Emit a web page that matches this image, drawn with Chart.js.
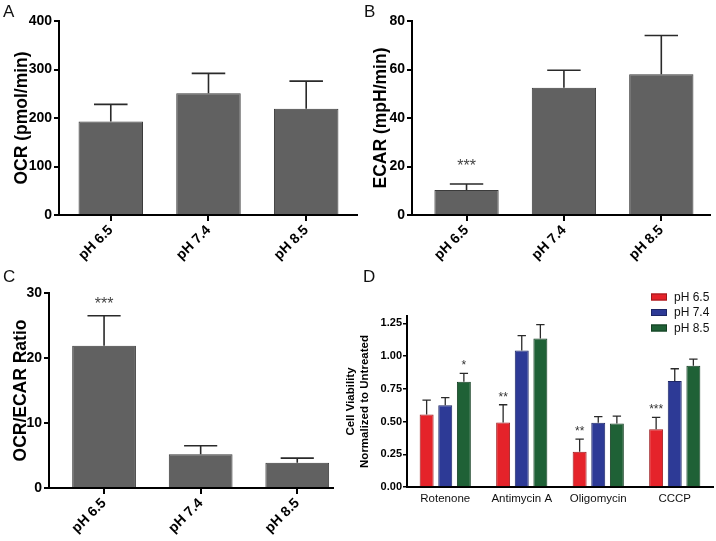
<!DOCTYPE html>
<html>
<head>
<meta charset="utf-8">
<script src="https://cdn.jsdelivr.net/npm/chart.js@4.4.1/dist/chart.umd.min.js"></script>
<style>
  body { margin: 0; background: #fff; }
  #wrap { position: relative; width: 716px; height: 541px; overflow: hidden; font-family: 'Liberation Sans', Arial, sans-serif; }
  .panel { position: absolute; }
  .tag { position: absolute; font-size: 17px; color: #111; line-height: 17px; }
</style>
</head>
<body>
<div id="wrap">
  <div class="panel" style="left:0;top:0;width:360px;height:280px"><canvas id="chartA" width="360" height="280"></canvas></div>
  <div class="panel" style="left:360px;top:0;width:356px;height:280px"><canvas id="chartB" width="356" height="280"></canvas></div>
  <div class="panel" style="left:0;top:280px;width:360px;height:261px"><canvas id="chartC" width="360" height="261"></canvas></div>
  <div class="panel" style="left:340px;top:280px;width:376px;height:261px"><canvas id="chartD" width="376" height="261"></canvas></div>
  <div class="tag" style="left:3px;top:3px">A</div>
  <div class="tag" style="left:364px;top:3px">B</div>
  <div class="tag" style="left:3px;top:268px">C</div>
  <div class="tag" style="left:363px;top:268px">D</div>
</div>
<script>
// groups for panels A-C
const phLabels = ['pH 6.5', 'pH 7.4', 'pH 8.5'];

// A: oxygen consumption rate
const ocr = [193, 251, 219];
const ocrErr = [35, 41, 57];

// B: extracellular acidification rate
const ecar = [10.3, 52.5, 58];
const ecarErr = [2.5, 7.2, 16];
const ecarStars = ['***', '', ''];

// C: OCR/ECAR ratio
const ratio = [21.9, 5.2, 3.9];
const ratioErr = [4.6, 1.3, 0.7];
const ratioStars = ['***', '', ''];

// D: cell viability per inhibitor
const drugs = ['Rotenone', 'Antimycin A', 'Oligomycin', 'CCCP'];
const via65 = [0.553, 0.493, 0.27, 0.441];
const via65Err = [0.11, 0.135, 0.095, 0.09];
const via65Stars = ['', '**', '**', '***'];
const via74 = [0.625, 1.043, 0.49, 0.809];
const via74Err = [0.057, 0.113, 0.047, 0.094];
const via74Stars = ['', '', '', ''];
const via85 = [0.804, 1.135, 0.485, 0.926];
const via85Err = [0.064, 0.105, 0.057, 0.051];
const via85Stars = ['*', '', '', ''];

const FONT = "'Liberation Sans', Arial, sans-serif";
Chart.defaults.font.family = FONT;
Chart.defaults.color = '#000';
Chart.defaults.animation = false;

const GRAY = '#616161';
const GRAY_EDGE = '#3b3b3b';

// error bars (upper only) + significance stars
const errorBars = {
    id: 'errorBars',
    afterDatasetsDraw(chart, args, opts) {
        const ctx = chart.ctx;
        const yScale = chart.scales.y;
        chart.data.datasets.forEach((ds, di) => {
            if (!ds.errors) return;
            const meta = chart.getDatasetMeta(di);
            meta.data.forEach((bar, i) => {
                const d = ds.data[i];
                const v = typeof d === 'object' ? d.y : d;
                const top = yScale.getPixelForValue(v + ds.errors[i]);
                const half = bar.width * opts.capRatio / 2;
                ctx.save();
                ctx.strokeStyle = opts.color;
                ctx.lineWidth = opts.lineWidth;
                ctx.beginPath();
                ctx.moveTo(bar.x, bar.y);
                ctx.lineTo(bar.x, top);
                ctx.moveTo(bar.x - half, top);
                ctx.lineTo(bar.x + half, top);
                ctx.stroke();
                if (ds.stars && ds.stars[i]) {
                    ctx.fillStyle = opts.starColor;
                    ctx.font = opts.starSize + 'px ' + FONT;
                    ctx.textAlign = 'center';
                    ctx.textBaseline = 'alphabetic';
                    ctx.fillText(ds.stars[i], bar.x, top - opts.starGap);
                }
                ctx.restore();
            });
        });
    }
};

// small boxed legend in the upper right corner of panel D
const boxLegend = {
    id: 'boxLegend',
    afterDraw(chart, args, opts) {
        if (!opts.show) return;
        const ctx = chart.ctx;
        chart.data.datasets.forEach((ds, i) => {
            const y = opts.y + i * opts.step;
            ctx.save();
            ctx.fillStyle = ds.backgroundColor;
            ctx.strokeStyle = ds.borderColor;
            ctx.lineWidth = 1;
            ctx.fillRect(opts.x, y - 3.5, 16, 7);
            ctx.strokeRect(opts.x + 0.5, y - 3, 15, 6);
            ctx.fillStyle = '#111';
            ctx.font = '12px ' + FONT;
            ctx.textBaseline = 'middle';
            ctx.fillText(ds.label, opts.x + 23, y + 0.5);
            ctx.restore();
        });
    }
};

function phChart(id, values, errs, stars, opt) {
    const ctx = document.getElementById(id);
    return new Chart(ctx, {
        type: 'bar',
        data: {
            datasets: [{
                data: values.map((v, i) => ({ x: i, y: v })),
                errors: errs,
                stars: stars,
                backgroundColor: GRAY,
                borderColor: GRAY_EDGE,
                borderWidth: 1,
                categoryPercentage: 1,
                barPercentage: 0.66
            }]
        },
        options: {
            responsive: false,
            layout: { padding: { left: 0, top: opt.top, right: opt.right, bottom: 0 } },
            plugins: {
                legend: { display: false },
                tooltip: { enabled: false },
                errorBars: { capRatio: 0.52, color: '#2a2a2a', lineWidth: 1.6, starSize: 16, starColor: '#444', starGap: opt.starGap },
                boxLegend: { show: false }
            },
            scales: {
                x: {
                    type: 'linear',
                    min: opt.xmin,
                    max: opt.xmax,
                    offset: false,
                    ticks: {
                        stepSize: 1,
                        includeBounds: false,
                        autoSkip: false,
                        minRotation: 45,
                        maxRotation: 45,
                        padding: 1,
                        font: { size: 14, weight: 'bold' },
                        callback: v => phLabels[v] || ''
                    },
                    grid: { drawOnChartArea: false, offset: false, tickLength: 6, color: '#000', lineWidth: 2 },
                    border: { color: '#000', width: 2 },
                    afterFit: s => { s.height = opt.xh; }
                },
                y: {
                    min: 0,
                    max: opt.ymax,
                    ticks: {
                        stepSize: opt.step,
                        padding: 2,
                        font: { size: 14, weight: 'bold' }
                    },
                    grid: { drawOnChartArea: false, tickLength: 5, color: '#000', lineWidth: 2 },
                    border: { color: '#000', width: 2 },
                    title: {
                        display: true,
                        text: opt.title,
                        font: { size: 17.5, weight: 'bold' },
                        padding: { top: opt.titlePad, bottom: 0 }
                    },
                    afterFit: s => { s.width = opt.left; }
                }
            }
        },
        plugins: [errorBars, boxLegend]
    });
}

phChart('chartA', ocr, ocrErr, null, {
    top: 21, right: 3, xh: 65, left: 59, ymax: 400, step: 100,
    xmin: -0.53, xmax: 2.52, title: 'OCR (pmol/min)', titlePad: 12, starGap: 10
});
phChart('chartB', ecar, ecarErr, ecarStars, {
    top: 21, right: 6, xh: 65, left: 52, ymax: 80, step: 20,
    xmin: -0.56, xmax: 2.5, title: 'ECAR (mpH/min)', titlePad: 11, starGap: 13
});
phChart('chartC', ratio, ratioErr, ratioStars, {
    top: 13, right: 27, xh: 53, left: 49, ymax: 30, step: 10,
    xmin: -0.57, xmax: 2.37, title: 'OCR/ECAR Ratio', titlePad: 11, starGap: 7
});

// D: grouped bars
const dSets = [
    { label: 'pH 6.5', data: via65, errors: via65Err, stars: via65Stars, backgroundColor: '#e5232a', borderColor: '#9c1a1e' },
    { label: 'pH 7.4', data: via74, errors: via74Err, stars: via74Stars, backgroundColor: '#2d3a96', borderColor: '#1d2666' },
    { label: 'pH 8.5', data: via85, errors: via85Err, stars: via85Stars, backgroundColor: '#1f6136', borderColor: '#143f23' }
];

new Chart(document.getElementById('chartD'), {
    type: 'bar',
    data: {
        labels: drugs,
        datasets: dSets.map(s => Object.assign({ borderWidth: 1, categoryPercentage: 0.73, barPercentage: 0.75 }, s))
    },
    options: {
        responsive: false,
        layout: { padding: { left: 0, top: 36, right: 3, bottom: 0 } },
        plugins: {
            legend: { display: false },
            tooltip: { enabled: false },
            errorBars: { capRatio: 0.6, color: '#2a2a2a', lineWidth: 1.3, starSize: 12, starColor: '#333', starGap: 4 },
            boxLegend: { show: true, x: 311, y: 17, step: 15.5 }
        },
        scales: {
            x: {
                ticks: { padding: 5, font: { size: 11.5 }, color: '#111' },
                grid: { drawOnChartArea: false, drawTicks: false },
                border: { color: '#000', width: 2 },
                afterFit: s => { s.height = 54; }
            },
            y: {
                min: 0,
                max: 1.306,
                ticks: {
                    stepSize: 0.25,
                    includeBounds: false,
                    padding: 1,
                    font: { size: 11, weight: 'bold' },
                    callback: v => v.toFixed(2)
                },
                grid: { drawOnChartArea: false, tickLength: 4, color: '#000', lineWidth: 1.5 },
                border: { color: '#000', width: 2 },
                title: {
                    display: true,
                    text: ['Cell Viability', 'Normalized to Untreated'],
                    font: { size: 11.5, weight: 'bold' },
                    padding: { top: 4, bottom: 0 }
                },
                afterFit: s => { s.width = 67; }
            }
        }
    },
    plugins: [errorBars, boxLegend]
});
</script>
</body>
</html>
